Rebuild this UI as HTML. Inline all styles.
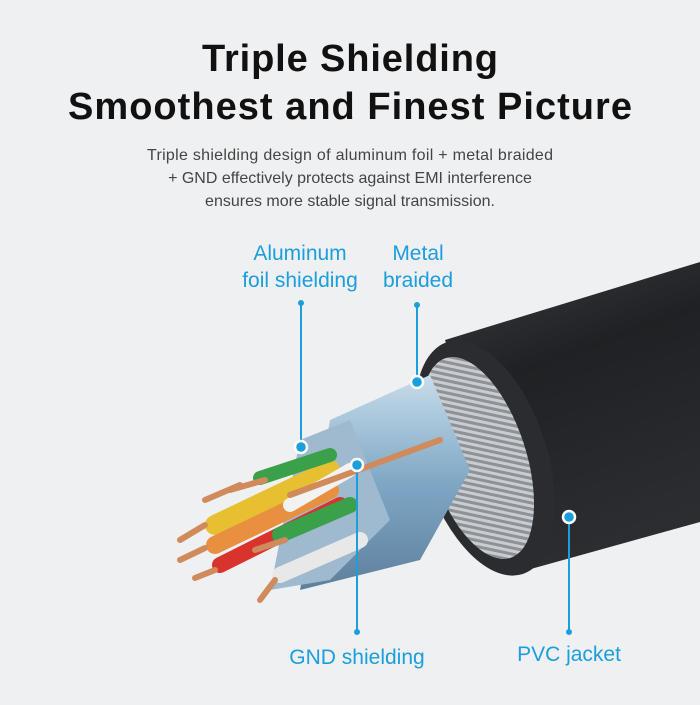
<!DOCTYPE html>
<html><head><meta charset="utf-8"><style>
body{margin:0;width:700px;height:700px;background:#eff0f2;overflow:hidden;font-family:"Liberation Sans",sans-serif}
</style></head><body>
<svg width="700" height="700" viewBox="0 0 700 700" xmlns="http://www.w3.org/2000/svg">
<defs>
<linearGradient id="jk" x1="0" y1="0" x2="0.3" y2="1">
<stop offset="0" stop-color="#3a3d42"/><stop offset="0.4" stop-color="#1f2124"/><stop offset="1" stop-color="#2b2d31"/></linearGradient>
<linearGradient id="sh" x1="0" y1="0" x2="0" y2="1">
<stop offset="0" stop-color="#c8dcea"/><stop offset="0.5" stop-color="#7fa8c6"/><stop offset="1" stop-color="#5d7f9c"/></linearGradient>
<pattern id="br" width="6" height="6" patternUnits="userSpaceOnUse" patternTransform="rotate(30)">
<rect width="6" height="6" fill="#8d9298"/><rect width="6" height="3" fill="#c9ccd0"/></pattern>
</defs>
<rect width="700" height="700" fill="#eff0f2"/>
<text x="350" y="71" text-anchor="middle" font-size="38" font-weight="bold" fill="#111" textLength="296">Triple Shielding</text>
<text x="350" y="119" text-anchor="middle" font-size="38" font-weight="bold" fill="#111" textLength="564">Smoothest and Finest Picture</text>
<g font-size="16" fill="#444" text-anchor="middle">
<text x="350" y="160" textLength="406">Triple shielding design of aluminum foil + metal braided</text>
<text x="350" y="183">+ GND effectively protects against EMI interference</text>
<text x="350" y="206">ensures more stable signal transmission.</text>
</g>
<!-- jacket -->
<path d="M445,340 L700,262 L700,522 L520,572 Z" fill="url(#jk)"/>
<ellipse cx="485" cy="458" rx="62" ry="122" transform="rotate(-18 485 458)" fill="#2a2c30"/>
<ellipse cx="478" cy="458" rx="48" ry="105" transform="rotate(-18 478 458)" fill="url(#br)"/>
<!-- shielding -->
<path d="M330,420 L430,375 L470,470 L420,560 L300,590 Z" fill="url(#sh)"/>
<path d="M300,440 L350,420 L390,520 L330,580 L270,590 Z" fill="#9fb9cf"/>
<!-- wires -->
<g stroke-linecap="round">
<line x1="330" y1="470" x2="215" y2="525" stroke="#e6c030" stroke-width="20"/>
<line x1="330" y1="490" x2="215" y2="545" stroke="#e99040" stroke-width="18"/>
<line x1="340" y1="505" x2="220" y2="565" stroke="#d9332e" stroke-width="16"/>
<line x1="330" y1="455" x2="260" y2="478" stroke="#3aa04a" stroke-width="14"/>
<line x1="350" y1="505" x2="280" y2="535" stroke="#3aa04a" stroke-width="16"/>
<line x1="360" y1="540" x2="280" y2="575" stroke="#e8e8e8" stroke-width="16"/>
<line x1="350" y1="470" x2="290" y2="505" stroke="#f2f2f2" stroke-width="14"/>
<g stroke="#d08a5c" stroke-width="6">
<line x1="240" y1="485" x2="205" y2="500"/><line x1="205" y1="525" x2="180" y2="540"/>
<line x1="205" y1="548" x2="180" y2="560"/><line x1="215" y1="570" x2="195" y2="578"/>
<line x1="265" y1="480" x2="230" y2="490"/><line x1="285" y1="540" x2="255" y2="550"/>
<line x1="275" y1="580" x2="260" y2="600"/><line x1="440" y1="440" x2="290" y2="495"/>
</g>
</g>
<!-- callouts -->
<g fill="#1a9edc" stroke="#1a9edc">
<line x1="301" y1="303" x2="301" y2="447" stroke-width="2"/><circle cx="301" cy="303" r="2.5"/>
<circle cx="301" cy="447" r="6" stroke="#fff" stroke-width="2.5"/>
<line x1="417" y1="305" x2="417" y2="382" stroke-width="2"/><circle cx="417" cy="305" r="2.5"/>
<circle cx="417" cy="382" r="6" stroke="#fff" stroke-width="2.5"/>
<line x1="357" y1="465" x2="357" y2="632" stroke-width="2"/><circle cx="357" cy="632" r="2.5"/>
<circle cx="357" cy="465" r="6" stroke="#fff" stroke-width="2.5"/>
<line x1="569" y1="517" x2="569" y2="632" stroke-width="2"/><circle cx="569" cy="632" r="2.5"/>
<circle cx="569" cy="517" r="6" stroke="#fff" stroke-width="2.5"/>
</g>
<g font-size="21" fill="#1a9edc" text-anchor="middle">
<text x="300" y="260">Aluminum</text><text x="300" y="287">foil shielding</text>
<text x="418" y="260">Metal</text><text x="418" y="287">braided</text>
<text x="357" y="664">GND shielding</text>
<text x="569" y="661">PVC jacket</text>
</g>
</svg>
</body></html>
